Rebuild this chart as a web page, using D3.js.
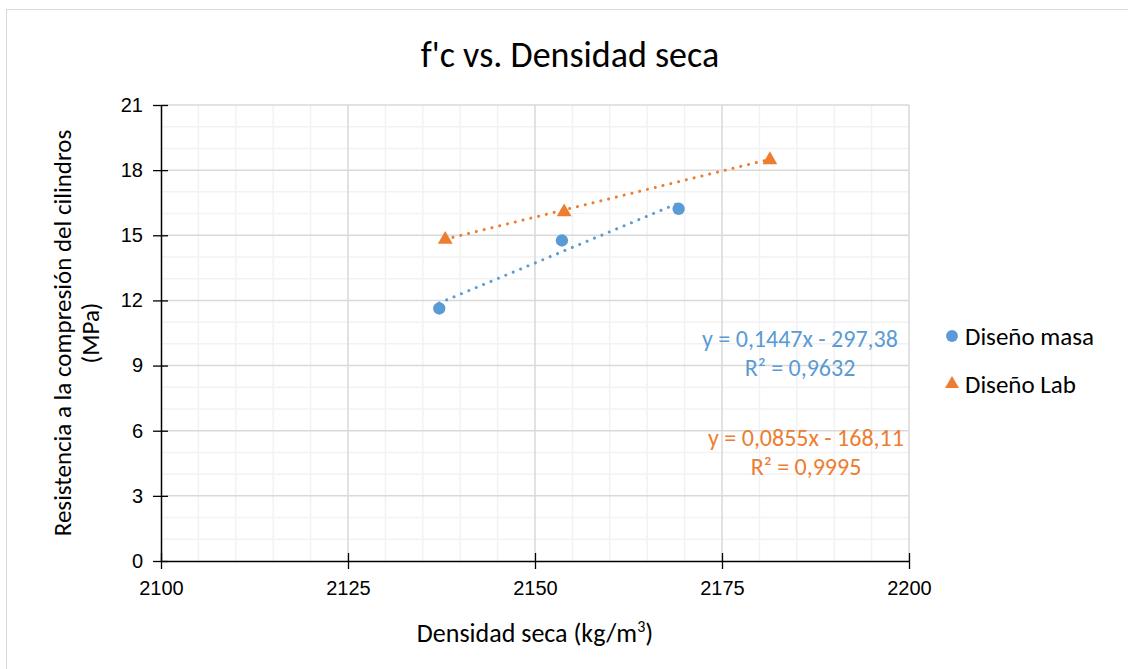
<!DOCTYPE html>
<html>
<head>
<meta charset="utf-8">
<script src="https://cdn.jsdelivr.net/npm/d3@7"></script>
<style>
  html, body { margin: 0; padding: 0; background: #fff; }
  svg { display: block; font-family: Carlito, Calibri, Lato, "Open Sans", sans-serif; }
</style>
</head>
<body>
<svg id="chart" width="1128" height="669"></svg>
<script>
// data
const masaX = [2137.2, 2153.6, 2169.2];
const masaY = [11.63, 14.76, 16.22];
const labX = [2138.0, 2153.9, 2181.4];
const labY = [14.85, 16.12, 18.52];

const seriesNames = ['Diseño masa', 'Diseño Lab'];
const seriesColors = ['#5B9BD5', '#ED7D31'];
const trendLabels = [
  ['y = 0,1447x - 297,38', 'R² = 0,9632'],
  ['y = 0,0855x - 168,11', 'R² = 0,9995']
];

const xTicks = [2100, 2125, 2150, 2175, 2200];
const yTicks = [0, 3, 6, 9, 12, 15, 18, 21];

const svg = d3.select('#chart');
const W = 1128, H = 669;
const m = { left: 161, right: 909, top: 105, bottom: 561 };

// chart frame
svg.append('rect')
  .attr('x', 6.5).attr('y', 9.5).attr('width', W + 10).attr('height', H + 10)
  .attr('fill', '#fff').attr('stroke', '#d9d9d9').attr('stroke-width', 1);

const x = d3.scaleLinear().domain([2100, 2200]).range([m.left, m.right]);
const y = d3.scaleLinear().domain([0, 21]).range([m.bottom, m.top]);

// minor grid
const grid = svg.append('g');
grid.selectAll('line.minx').data(d3.range(2105, 2200, 5).filter(v => v % 25 !== 0)).join('line')
  .attr('x1', d => x(d)).attr('x2', d => x(d)).attr('y1', m.top).attr('y2', m.bottom)
  .attr('stroke', '#f2f2f2').attr('stroke-width', 1.5);
grid.selectAll('line.miny').data(d3.range(1, 21).filter(v => v % 3 !== 0)).join('line')
  .attr('y1', d => y(d)).attr('y2', d => y(d)).attr('x1', m.left).attr('x2', m.right)
  .attr('stroke', '#f2f2f2').attr('stroke-width', 1.5);
// major grid
grid.selectAll('line.majx').data(xTicks.slice(1)).join('line')
  .attr('x1', d => x(d)).attr('x2', d => x(d)).attr('y1', m.top).attr('y2', m.bottom)
  .attr('stroke', '#d9d9d9').attr('stroke-width', 1.5);
grid.selectAll('line.majy').data(yTicks.slice(1)).join('line')
  .attr('y1', d => y(d)).attr('y2', d => y(d)).attr('x1', m.left).attr('x2', m.right)
  .attr('stroke', '#d9d9d9').attr('stroke-width', 1.5);

// axes with crossing ticks
const xAxis = svg.append('g').attr('transform', `translate(0,${m.bottom})`)
  .call(d3.axisBottom(x).tickValues(xTicks).tickSizeInner(8).tickSizeOuter(0).tickPadding(12).tickFormat(d3.format('d')));
xAxis.selectAll('.tick line').attr('y1', -8).attr('stroke', '#000').attr('stroke-width', 1.3);
xAxis.select('.domain').attr('stroke', '#000').attr('stroke-width', 1.5);
xAxis.selectAll('text').attr('font-size', 20).attr('fill', '#000').attr('font-family', 'inherit');

const yAxis = svg.append('g').attr('transform', `translate(${m.left},0)`)
  .call(d3.axisLeft(y).tickValues(yTicks).tickSizeInner(8).tickSizeOuter(0).tickPadding(10));
yAxis.selectAll('.tick line').attr('x1', 7).attr('stroke', '#000').attr('stroke-width', 1.3);
yAxis.select('.domain').attr('stroke', '#000').attr('stroke-width', 1.5);
yAxis.selectAll('text').attr('font-size', 20).attr('fill', '#000').attr('font-family', 'inherit');

// titles
svg.append('text').attr('x', 570).attr('y', 67).attr('text-anchor', 'middle')
  .attr('font-size', 36).attr('fill', '#000').text("f'c vs. Densidad seca");

const xt = svg.append('text').attr('x', 535).attr('y', 642).attr('text-anchor', 'middle')
  .attr('font-size', 26).attr('fill', '#000');
xt.append('tspan').text('Densidad seca (kg/m');
xt.append('tspan').attr('font-size', 16).attr('dy', -10).text('3');
xt.append('tspan').attr('dy', 10).text(')');

const yt = svg.append('text').attr('transform', `translate(0,${(m.top + m.bottom) / 2}) rotate(-90)`)
  .attr('text-anchor', 'middle').attr('font-size', 25).attr('fill', '#000');
yt.append('tspan').attr('x', 0).attr('y', 71).text('Resistencia a la compresión del cilindros');
yt.append('tspan').attr('x', 0).attr('y', 99).text('(MPa)');

// least-squares trendlines from the data
function fit(xs, ys) {
  const n = xs.length, mx = d3.mean(xs), my = d3.mean(ys);
  let sxy = 0, sxx = 0;
  for (let i = 0; i < n; i++) { sxy += (xs[i] - mx) * (ys[i] - my); sxx += (xs[i] - mx) ** 2; }
  const b = sxy / sxx;
  return { b, a: my - b * mx };
}
const series = [
  { name: seriesNames[0], xs: masaX, ys: masaY, color: seriesColors[0], shape: d3.symbolCircle },
  { name: seriesNames[1], xs: labX, ys: labY, color: seriesColors[1], shape: d3.symbolTriangle }
];

series.forEach(s => {
  const f = fit(s.xs, s.ys);
  const x0 = d3.min(s.xs), x1 = d3.max(s.xs);
  svg.append('line')
    .attr('x1', x(x0)).attr('y1', y(f.a + f.b * x0))
    .attr('x2', x(x1)).attr('y2', y(f.a + f.b * x1))
    .attr('stroke', s.color).attr('stroke-width', 3)
    .attr('stroke-linecap', 'round').attr('stroke-dasharray', '0.01 8');
});

series.forEach(s => {
  const sym = d3.symbol().type(s.shape).size(s.shape === d3.symbolCircle ? 120 : 95);
  svg.append('g').selectAll('path').data(s.xs.map((v, i) => [v, s.ys[i]])).join('path')
    .attr('d', sym)
    .attr('transform', d => `translate(${x(d[0])},${y(d[1]) + (s.shape === d3.symbolTriangle ? 1 : 0)})`)
    .attr('fill', s.color);
});

// trendline labels
const labelPos = [[800, 347], [806, 446]];
trendLabels.forEach((lines, i) => {
  const t = svg.append('text').attr('text-anchor', 'middle').attr('font-size', 24)
    .attr('fill', seriesColors[i]);
  lines.forEach((l, j) => t.append('tspan').attr('x', labelPos[i][0]).attr('y', labelPos[i][1] + j * 29).text(l));
});

// legend
const leg = svg.append('g').attr('transform', 'translate(952,336)');
series.forEach((s, i) => {
  const g = leg.append('g').attr('transform', `translate(0,${i * 48})`);
  g.append('path').attr('d', d3.symbol().type(s.shape).size(s.shape === d3.symbolCircle ? 110 : 85))
    .attr('fill', s.color);
  g.append('text').attr('x', 13).attr('y', 9).attr('font-size', 25).attr('fill', '#000').text(s.name);
});
</script>
</body>
</html>
